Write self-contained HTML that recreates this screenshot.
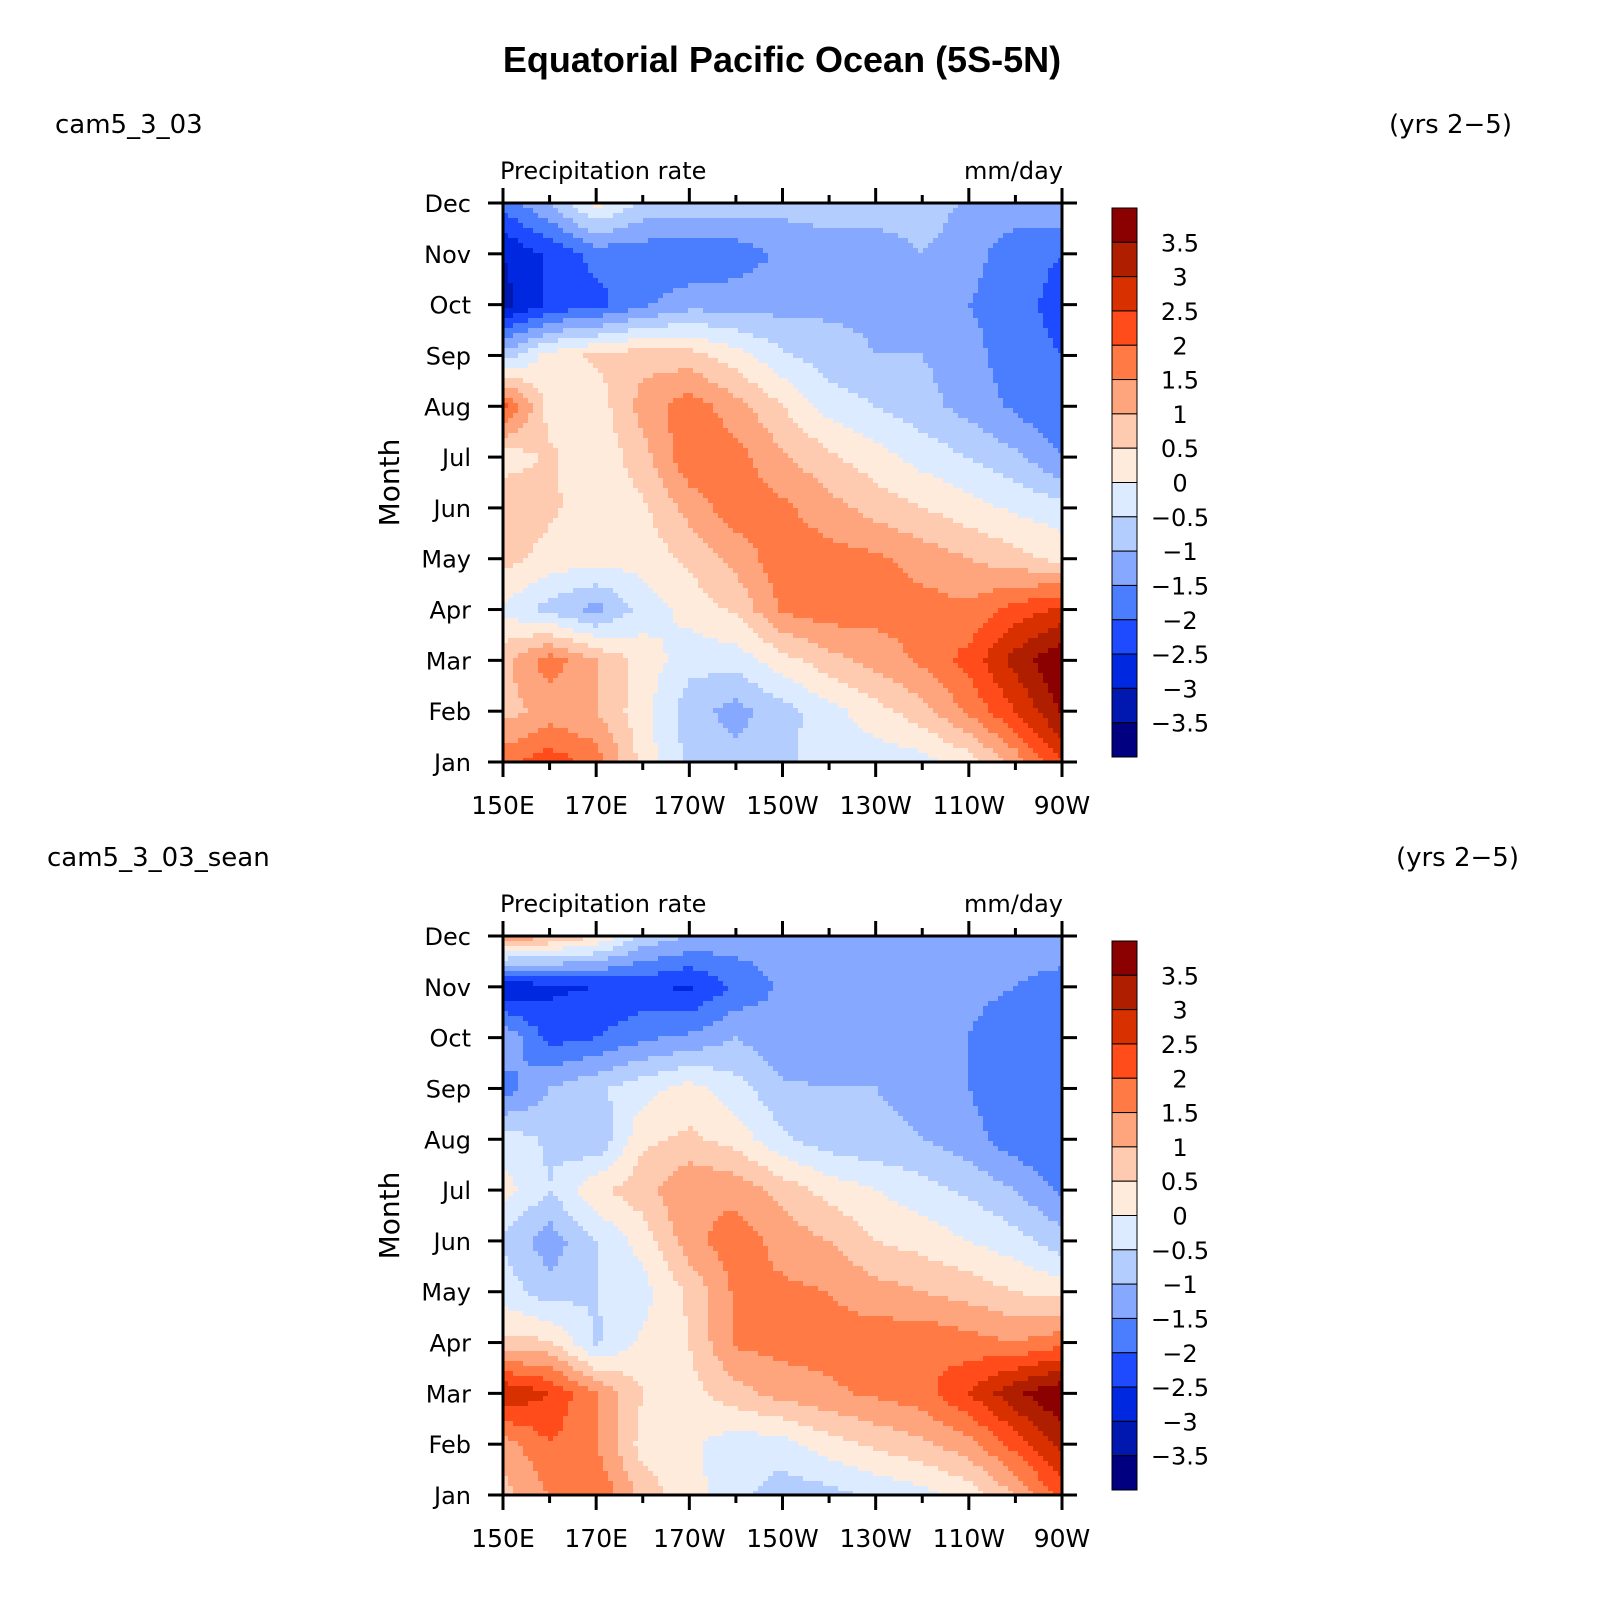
<!DOCTYPE html>
<html><head><meta charset="utf-8">
<style>
html,body{margin:0;padding:0;background:#fff;overflow:hidden;width:1597px;height:1600px;}
svg{display:block;font-family:"DejaVu Sans","Liberation Sans",sans-serif;}
</style></head>
<body>
<svg id="chart" width="1597" height="1600" viewBox="0 0 1597 1600" xmlns="http://www.w3.org/2000/svg">
<text x="782" y="72" text-anchor="middle" font-family="Liberation Sans, sans-serif" font-weight="bold" font-size="36">Equatorial Pacific Ocean (5S-5N)</text>
</svg>
<script>
const months = ["Jan","Feb","Mar","Apr","May","Jun","Jul","Aug","Sep","Oct","Nov","Dec"];
const lonLabels = ["150E","170E","170W","150W","130W","110W","90W"];
const levels = [-3.5,-3,-2.5,-2,-1.5,-1,-0.5,0,0.5,1,1.5,2,2.5,3,3.5];
const levelLabels = ["3.5","3","2.5","2","1.5","1","0.5","0","\u22120.5","\u22121","\u22121.5","\u22122","\u22122.5","\u22123","\u22123.5"];
const colors = ["#000080","#0018B0","#0028E0","#1E4BFF","#4B7EFF","#86A9FF","#B4CDFF","#DCEBFF","#FFEBDC","#FFCBB0","#FFA57D","#FF7A45","#FF4C1A","#D93000","#B01E00","#8B0000"];
// rows Jan..Dec, columns 150E..90W every 10 deg
const valuesA = [
[1.8,2.3,1.8,0.3,-0.6,-0.8,-0.6,-0.3,-0.3,-0.2,0.2,1.2,2.5],
[0.8,1.2,1.0,0.2,-0.8,-1.2,-0.7,-0.2,0.3,0.8,1.6,2.5,3.6],
[0.8,1.8,1.0,0.3,-0.3,-0.3,0.3,0.8,1.2,1.6,2.2,3.2,4.0],
[-0.1,-0.7,-1.2,-0.3,0.2,0.6,1.6,1.8,1.7,1.7,1.6,2.2,2.6],
[0.7,0.3,0.2,0.2,0.6,1.2,1.8,1.7,1.6,1.3,1.0,0.7,0.3],
[1.0,0.6,0.2,0.4,1.2,1.8,1.6,1.2,0.8,0.5,0.2,-0.1,-0.3],
[0.2,0.6,0.1,0.8,1.9,1.7,1.1,0.6,0.2,-0.2,-0.5,-0.9,-1.5],
[2.2,0.3,0.2,1.2,1.8,1.2,0.5,-0.2,-0.5,-0.8,-1.2,-1.6,-2.0],
[-0.8,0.2,0.6,0.8,0.7,0.2,-0.4,-0.8,-1.0,-1.0,-1.3,-1.8,-2.0],
[-3.2,-2.4,-2.2,-1.6,-1.2,-1.2,-1.2,-1.1,-1.1,-1.2,-1.5,-1.8,-2.2],
[-3.0,-2.4,-1.8,-1.8,-2.0,-1.8,-1.4,-1.3,-1.3,-1.0,-1.3,-1.8,-2.0],
[-1.8,-1.0,0.2,-0.6,-0.6,-0.7,-0.8,-0.7,-0.7,-0.7,-1.1,-1.2,-1.0]];
const valuesB = [
[0.8,1.5,2.0,0.8,0.2,-0.3,-0.8,-0.7,-0.4,-0.2,0.2,1.0,2.2],
[1.2,2.0,1.5,0.3,0.1,-0.3,-0.2,0.3,0.6,0.9,1.3,2.2,3.2],
[3.0,2.5,1.5,0.5,0.3,0.8,1.2,1.4,1.6,1.8,2.5,3.4,4.0],
[0.6,0.6,-0.6,0.1,0.5,1.6,1.7,1.7,1.8,1.9,1.7,1.5,1.8],
[-0.2,-0.8,-0.5,-0.2,0.6,1.6,1.6,1.5,1.2,1.0,0.8,0.5,0.3],
[-0.6,-1.3,-0.5,0.2,1.3,1.8,1.3,1.0,0.5,0.3,0.0,-0.3,-0.8],
[0.2,-0.5,0.4,0.8,1.5,1.3,0.8,0.3,0.0,-0.3,-0.6,-1.0,-1.6],
[-0.2,-0.6,-1.0,0.4,0.6,0.3,-0.4,-0.8,-0.9,-1.0,-1.3,-1.8,-2.0],
[-1.8,-1.0,-0.6,-0.2,0.2,-0.3,-0.9,-1.0,-1.0,-1.1,-1.5,-1.9,-2.0],
[-1.0,-2.2,-2.0,-1.6,-1.4,-1.0,-1.4,-1.5,-1.1,-1.1,-1.5,-2.0,-2.0],
[-3.0,-2.6,-2.5,-2.4,-2.6,-1.9,-1.4,-1.3,-1.2,-1.2,-1.3,-1.5,-1.8],
[1.5,1.0,0.5,-0.6,-1.0,-1.2,-1.3,-1.2,-1.1,-1.2,-1.2,-1.1,-1.0]];

const NS="http://www.w3.org/2000/svg";
const svg=document.getElementById('chart');
function mk(tag,attrs,parent,text){const e=document.createElementNS(NS,tag);for(const k in attrs)e.setAttribute(k,attrs[k]);if(text!==undefined)e.textContent=text;(parent||svg).appendChild(e);return e;}
function colorFor(v){let i=0;while(i<levels.length&&v>=levels[i])i++;return colors[i];}
function sample(vals,fx,fy){
  fx=Math.max(0,Math.min(12,fx));fy=Math.max(0,Math.min(11,fy));
  const x0=Math.min(11,Math.floor(fx)),y0=Math.min(10,Math.floor(fy));
  const tx=fx-x0,ty=fy-y0;
  const a=vals[y0][x0],b=vals[y0][x0+1],c=vals[y0+1][x0],d=vals[y0+1][x0+1];
  return (a*(1-tx)+b*tx)*(1-ty)+(c*(1-tx)+d*tx)*ty;
}
function panel(vals,top,name,lbl,rightX,lblX){
  const L=503,R=1062,T=top,B=top+559;
  const W=R-L,H=B-T;
  const xs=f=>L+f/12*W, ys=m=>B-m/11*H;
  const g=mk('g',{},svg);
  
  
  mk('text',{x:lblX,y:T-70,'font-size':26},g,lbl);
  mk('text',{x:rightX,y:T-70,'font-size':26,'text-anchor':'end'},g,"(yrs 2\u22125)");
  mk('text',{x:500,y:T-24,'font-size':24},g,"Precipitation rate");
  mk('text',{x:1063,y:T-24,'font-size':24,'text-anchor':'end'},g,"mm/day");
  const hm=mk('g',{'shape-rendering':'crispEdges'},g);
  
  
  const step=5;
  for(let py=T;py<B;py+=step){
    const hh=Math.min(step,B-py);
    let runStart=L,runCol=null;
    for(let px=L;;px+=step){
      let col=null;
      if(px<R){const cw=Math.min(step,R-px);const fx=(px+cw/2-L)/W*12, fy=(B-(py+hh/2))/H*11;col=colorFor(sample(vals,fx,fy));}
      if(col!==runCol){
        if(runCol!==null){
          const r=mk('rect',{x:runStart,y:py,width:Math.min(px,R)-runStart,height:hh+0.5,fill:runCol},hm);
          
          
        }
        runStart=px;runCol=col;
      }
      if(px>=R)break;
    }
  }
  const ax=mk('rect',{x:L,y:T,width:W,height:H,fill:'none',stroke:'#000','stroke-width':3},g);
  
  
  months.forEach((m,i)=>{
    const y=ys(i);
    mk('line',{x1:L-15,x2:L,y1:y,y2:y,stroke:'#000','stroke-width':3},g);
    mk('line',{x1:R,x2:R+15,y1:y,y2:y,stroke:'#000','stroke-width':3},g);
    const t=mk('text',{x:471,y:y+9,'font-size':24,'text-anchor':'end'},g,m);
    
    
  });
  for(let k=0;k<=12;k++){
    const x=xs(k),len=(k%2===0)?15:8;
    mk('line',{x1:x,x2:x,y1:B,y2:B+len,stroke:'#000','stroke-width':3},g);
    mk('line',{x1:x,x2:x,y1:T-len,y2:T,stroke:'#000','stroke-width':3},g);
  }
  lonLabels.forEach((s,i)=>{
    const t=mk('text',{x:xs(i*2),y:B+52,'font-size':25,'text-anchor':'middle'},g,s);
    
    
  });
  const yt=mk('text',{x:0,y:0,'font-size':28,'text-anchor':'middle',transform:`translate(399,${(T+B)/2}) rotate(-90)`},g,"Month");
  
  
  const cb=mk('g',{},g);
  
  
  const cT=T+5,cB=B-5,cH=(cB-cT)/colors.length;
  for(let i=0;i<colors.length;i++){
    const r=mk('rect',{x:1112,y:cT+i*cH,width:25,height:cH,fill:colors[colors.length-1-i],stroke:'#000','stroke-width':1},cb);
    
    
  }
  levelLabels.forEach((s,i)=>{
    const t=mk('text',{x:1180,y:cT+(i+1)*cH+9,'font-size':24,'text-anchor':'middle'},cb,s);
    
    
  });
}
panel(valuesA,203,'top',"cam5_3_03",1512,55);
panel(valuesB,936,'bottom',"cam5_3_03_sean",1519,47);
</script>
</body></html>
